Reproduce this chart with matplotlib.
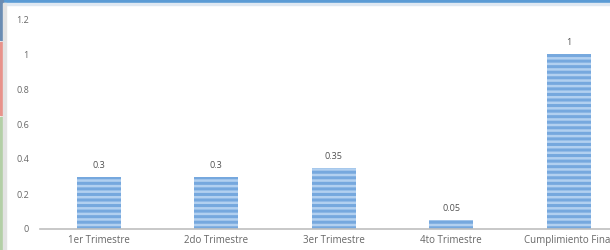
import matplotlib.pyplot as plt
from matplotlib.patches import Rectangle

categorias = ['1er Trimestre', '2do Trimestre', '3er Trimestre', '4to Trimestre', 'Cumplimiento Final']
valores = [0.3, 0.3, 0.35, 0.05, 1]
etiquetas = ['0.3', '0.3', '0.35', '0.05', '1']
yticks = [0, 0.2, 0.4, 0.6, 0.8, 1, 1.2]
yticklabels = ['0', '0.2', '0.4', '0.6', '0.8', '1', '1.2']

plt.rcParams['font.family'] = ['Open Sans', 'DejaVu Sans']
plt.rcParams['hatch.linewidth'] = 1.8

fig = plt.figure(figsize=(6.1, 2.5), dpi=100)
fig.patch.set_facecolor('white')

# marco de la captura (barra superior y bordes izquierdos)
fig.patches.append(Rectangle((0, 1 - 3 / 250), 1, 3 / 250, transform=fig.transFigure, color='#5b9bd5', zorder=0))
fig.patches.append(Rectangle((0, 1 - 5 / 250), 1, 2 / 250, transform=fig.transFigure, color='#dfe8f2', zorder=0))
fig.patches.append(Rectangle((0, 1 - 40 / 250), 2.5 / 610, 40 / 250, transform=fig.transFigure, color='#6a8cb3', zorder=0))
fig.patches.append(Rectangle((0, 1 - 115 / 250), 2.5 / 610, 73 / 250, transform=fig.transFigure, color='#e8928a', zorder=0))
fig.patches.append(Rectangle((0, 0), 2.5 / 610, 133 / 250, transform=fig.transFigure, color='#b3cfa6', zorder=0))
fig.patches.append(Rectangle((2.5 / 610, 0), 3.5 / 610, 1 - 3 / 250, transform=fig.transFigure, color='#e3e3e3', zorder=0))

ax = fig.add_axes([40 / 610, 21 / 250, 587.5 / 610, 210 / 250])
ax.set_facecolor('none')

x = range(len(categorias))
ax.bar(x, valores, width=0.375, color='#76a8de', linewidth=0, zorder=2)
ax.bar(x, valores, width=0.375, facecolor='none', edgecolor='#b2d0f0', linewidth=0, hatch='---', zorder=3)

for i, v in enumerate(valores):
    ax.text(i, v + 0.04, etiquetas[i], ha='center', va='bottom', fontsize=6.5, color='#505050')

ax.set_xlim(-0.5, len(categorias) - 0.5)
ax.set_ylim(0, 1.2)
ax.set_xticks(list(x))
ax.set_xticklabels(categorias, fontsize=7, color='#666666')
ax.set_yticks(yticks)
ax.set_yticklabels(yticklabels, fontsize=6.5, color='#666666')
ax.tick_params(axis='both', length=0)
ax.tick_params(axis='y', pad=8)
ax.tick_params(axis='x', pad=4)
for s in ['top', 'right', 'left']:
    ax.spines[s].set_visible(False)
ax.spines['bottom'].set_color('#bfbfbf')
ax.spines['bottom'].set_linewidth(1.2)

fig.savefig('out.png', dpi=100)
